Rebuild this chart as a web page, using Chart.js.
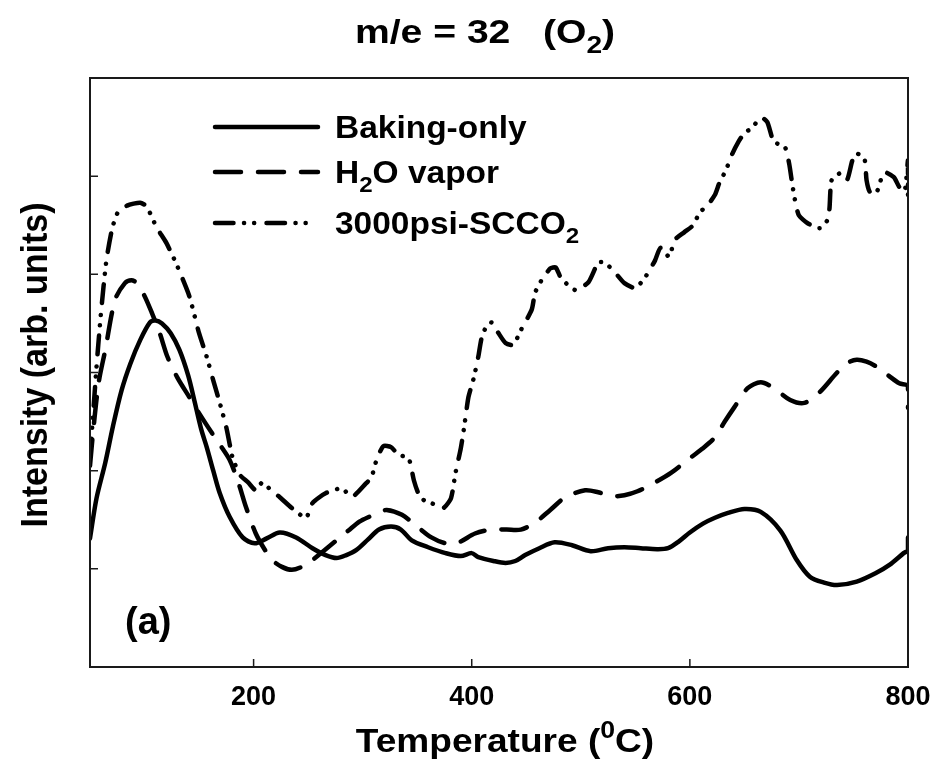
<!DOCTYPE html>
<html>
<head>
<meta charset="utf-8">
<title>m/e = 32 (O2)</title>
<script src="https://cdn.jsdelivr.net/npm/chart.js@4.4.1/dist/chart.umd.min.js"></script>
<style>
  html, body { margin: 0; padding: 0; background: #fff; }
  canvas { display: block; }
</style>
</head>
<body>
<canvas id="tds" width="933" height="765"></canvas>
<script>
// desorption traces, temperature in degC vs intensity (arb. units)
const bakingT = [50, 56, 64, 71, 79, 87, 96, 105, 110, 116, 124, 132, 140, 146, 152, 157, 163, 169, 178, 190,
  201, 212, 224, 239, 254, 266, 276, 285, 294, 305, 315, 326, 335, 345, 360, 376, 390, 400, 406, 420,
  431, 440, 449, 462, 476, 492, 509, 525, 540, 555, 570, 580, 590, 600, 612, 623, 635, 650, 665, 683,
  698, 710, 723, 735, 753, 771, 783, 796, 800, 800];
const bakingI = [1.31, 1.72, 2.08, 2.45, 2.82, 3.09, 3.33, 3.51, 3.53, 3.50, 3.40, 3.23, 2.97, 2.70, 2.42, 2.24, 2.00, 1.77, 1.53, 1.32,
  1.26, 1.31, 1.37, 1.32, 1.21, 1.14, 1.11, 1.14, 1.19, 1.30, 1.40, 1.43, 1.40, 1.29, 1.22, 1.16, 1.13, 1.16, 1.12, 1.08,
  1.06, 1.08, 1.14, 1.21, 1.27, 1.24, 1.18, 1.21, 1.22, 1.21, 1.20, 1.21, 1.28, 1.37, 1.46, 1.52, 1.57, 1.61, 1.58, 1.39,
  1.09, 0.92, 0.86, 0.835, 0.87, 0.96, 1.04, 1.16, 1.19, 1.32];

const vaporT = [50, 53, 58, 64, 73, 82, 88, 93, 100, 107, 114, 121, 130, 141, 152, 162, 170, 178, 186, 193,
  202, 210, 217, 226, 235, 244, 254, 265, 276, 287, 297, 306, 315, 322, 336, 350, 363, 376, 388, 403,
  418, 432, 445, 458, 472, 486, 504, 516, 528, 540, 552, 568, 583, 598, 611, 623, 632, 641, 653, 665,
  677, 692, 705, 719, 735, 745, 753, 762, 771, 782, 792, 800, 800];
const vaporI = [2.05, 2.41, 2.9, 3.23, 3.74, 3.91, 3.94, 3.91, 3.78, 3.6, 3.4, 3.16, 2.95, 2.75, 2.55, 2.38, 2.25, 2.11, 1.88, 1.63,
  1.36, 1.2, 1.09, 1.02, 0.99, 1.02, 1.09, 1.19, 1.29, 1.39, 1.48, 1.53, 1.57, 1.60, 1.55, 1.43, 1.32, 1.26, 1.27, 1.36,
  1.40, 1.40, 1.40, 1.47, 1.60, 1.73, 1.80, 1.78, 1.74, 1.75, 1.79, 1.88, 1.98, 2.11, 2.22, 2.34, 2.50, 2.65, 2.84, 2.90,
  2.84, 2.72, 2.69, 2.80, 3.00, 3.10, 3.13, 3.11, 3.06, 2.97, 2.89, 2.86, 2.64];

const scco2T = [50, 53, 56, 60, 65, 70, 75, 84, 96, 102, 111, 120, 129, 141, 150, 157, 163, 169, 175, 181,
  188, 195, 202, 208, 216, 224, 235, 248, 254, 266, 281, 290, 303, 308, 313, 319, 326, 333, 342, 347,
  351, 356, 363, 374, 381, 385, 390, 393, 397, 402, 406, 409, 413, 418, 424, 431, 438, 445, 455, 458,
  464, 472, 477, 482, 495, 507, 516, 522, 532, 540, 550, 559, 568, 573, 581, 586, 595, 603, 609, 616,
  623, 627, 633, 639, 644, 650, 657, 665, 671, 677, 687, 691, 694, 697, 700, 708, 719, 726, 728, 730,
  738, 744, 749, 753, 760, 762, 765, 771, 778, 787, 792, 797, 800, 800];
const scco2I = [2.14, 2.6, 3.06, 3.6, 4.14, 4.45, 4.62, 4.70, 4.73, 4.69, 4.48, 4.32, 4.11, 3.78, 3.4, 3.16, 2.92, 2.69, 2.44, 2.12,
  1.95, 1.88, 1.80, 1.88, 1.80, 1.73, 1.62, 1.52, 1.67, 1.77, 1.82, 1.73, 1.87, 1.93, 2.12, 2.25, 2.24, 2.16, 2.13, 1.90,
  1.77, 1.70, 1.67, 1.62, 1.72, 1.97, 2.23, 2.44, 2.75, 2.95, 3.16, 3.35, 3.46, 3.51, 3.41, 3.30, 3.28, 3.43, 3.64, 3.81,
  3.94, 4.06, 4.07, 3.96, 3.84, 3.92, 4.12, 4.12, 4.01, 3.91, 3.86, 3.97, 4.14, 4.27, 4.18, 4.35, 4.43, 4.50, 4.63, 4.70,
  4.81, 4.93, 5.06, 5.23, 5.34, 5.44, 5.49, 5.60, 5.55, 5.35, 5.30, 5.13, 4.91, 4.72, 4.60, 4.52, 4.47, 4.55, 4.67, 4.96,
  5.03, 4.96, 5.16, 5.23, 5.18, 4.96, 4.84, 4.83, 5.04, 4.99, 4.89, 4.85, 5.16, 4.70];

const seriesLabels = ['Baking-only', 'H₂O vapor', '3000psi-SCCO₂'];
const xTicks = [200, 400, 600, 800];
const yTicks = [1, 2, 3, 4, 5];

const chartTitle = 'm/e = 32   (O₂)';
const xTitle = 'Temperature (⁰C)';
const yTitle = 'Intensity (arb. units)';
const panelTag = '(a)';

const FONT = '"Liberation Sans", Arial, Helvetica, sans-serif';
const LINE_W = 4.5;

function toPoints(xs, ys) {
  return xs.map((x, i) => ({ x: x, y: ys[i] }));
}

// text helpers: ₂ is drawn as a subscript, ⁰ as a superscript
const SUB = { '₂': '2' };
const SUP = { '⁰': '0' };

function runsOf(text) {
  const runs = [];
  for (const ch of text) {
    const kind = SUB[ch] ? 'sub' : (SUP[ch] ? 'sup' : 'n');
    const c = SUB[ch] || SUP[ch] || ch;
    const last = runs[runs.length - 1];
    if (last && last.kind === kind) last.t += c;
    else runs.push({ kind: kind, t: c });
  }
  return runs;
}

function boldFont(size) {
  return 'bold ' + size + 'px ' + FONT;
}

function drawRich(ctx, text, x, y, size, opt) {
  opt = opt || {};
  const runs = runsOf(text);
  const sx = opt.scaleX || 1;
  let w = 0;
  runs.forEach(r => {
    ctx.font = boldFont(r.kind === 'n' ? size : size * 0.72);
    w += ctx.measureText(r.t).width;
  });
  ctx.save();
  ctx.translate(x, y);
  if (opt.rotate) ctx.rotate(opt.rotate);
  ctx.scale(sx, 1);
  ctx.textAlign = 'left';
  ctx.textBaseline = 'alphabetic';
  ctx.fillStyle = '#000';
  let cx = opt.align === 'center' ? -w / 2 : 0;
  runs.forEach(r => {
    ctx.font = boldFont(r.kind === 'n' ? size : size * 0.72);
    const dy = r.kind === 'sub' ? size * 0.3 : (r.kind === 'sup' ? -size * 0.42 : 0);
    ctx.fillText(r.t, cx, dy);
    cx += ctx.measureText(r.t).width;
  });
  ctx.restore();
}

// frame, inward ticks, titles and the in-plot legend
const figureText = {
  id: 'figureText',
  afterDraw(chart) {
    const ctx = chart.ctx;
    const a = chart.chartArea;
    const xs = chart.scales.x;
    const ys = chart.scales.y;
    ctx.save();

    ctx.strokeStyle = '#1a1a1a';
    ctx.lineWidth = 2;
    ctx.strokeRect(a.left, a.top, a.right - a.left, a.bottom - a.top);

    ctx.lineWidth = 1.5;
    ctx.beginPath();
    xTicks.forEach(v => {
      const px = xs.getPixelForValue(v);
      ctx.moveTo(px, a.bottom);
      ctx.lineTo(px, a.bottom - 8);
    });
    yTicks.forEach(v => {
      const py = ys.getPixelForValue(v);
      ctx.moveTo(a.left, py);
      ctx.lineTo(a.left + 8, py);
    });
    ctx.stroke();

    drawRich(ctx, chartTitle, 485, 43, 34, { align: 'center', scaleX: 1.15 });
    drawRich(ctx, xTitle, 505, 752, 34, { align: 'center', scaleX: 1.09 });
    drawRich(ctx, yTitle, 47, 365, 36, { align: 'center', scaleX: 0.945, rotate: -Math.PI / 2 });
    drawRich(ctx, panelTag, 125, 634, 38);

    // legend
    const rows = [127, 172, 223];
    chart.data.datasets.forEach((ds, i) => {
      ctx.save();
      ctx.strokeStyle = ds.borderColor;
      ctx.lineWidth = ds.borderWidth;
      ctx.lineCap = 'round';
      ctx.setLineDash(ds.borderDash || []);
      ctx.beginPath();
      ctx.moveTo(a.left + 125, rows[i]);
      ctx.lineTo(a.left + 228, rows[i]);
      ctx.stroke();
      ctx.restore();
      drawRich(ctx, ds.label, a.left + 245, rows[i] + 11, 31, { scaleX: 1.08 });
    });

    ctx.restore();
  }
};

const lineBase = {
  borderColor: '#000',
  borderWidth: LINE_W,
  borderCapStyle: 'round',
  borderJoinStyle: 'round',
  pointRadius: 0,
  fill: false
};

new Chart(document.getElementById('tds'), {
  type: 'line',
  data: {
    datasets: [
      Object.assign({}, lineBase, {
        label: seriesLabels[0],
        data: toPoints(bakingT, bakingI),
        tension: 0.3
      }),
      Object.assign({}, lineBase, {
        label: seriesLabels[1],
        data: toPoints(vaporT, vaporI),
        borderDash: [26, 17],
        tension: 0.3
      }),
      Object.assign({}, lineBase, {
        label: seriesLabels[2],
        data: toPoints(scco2T, scco2I),
        borderDash: [18.5, 10.5, 0.1, 10, 0.1, 12.3],
        tension: 0.2
      })
    ]
  },
  options: {
    responsive: false,
    devicePixelRatio: 1,
    animation: false,
    layout: { padding: { top: 78, right: 25, left: 0, bottom: 0 } },
    plugins: {
      legend: { display: false },
      title: { display: false },
      tooltip: { enabled: false }
    },
    scales: {
      x: {
        type: 'linear',
        min: 50,
        max: 800,
        grid: { display: false, drawTicks: false },
        border: { display: false },
        ticks: {
          color: '#000',
          font: { family: FONT, size: 27, weight: 'bold' },
          padding: 14,
          maxRotation: 0
        },
        afterBuildTicks: scale => {
          scale.ticks = xTicks.map(v => ({ value: v }));
        },
        afterFit: scale => {
          scale.height = 98;
          scale.paddingLeft = 0;
          scale.paddingRight = 0;
        }
      },
      y: {
        min: 0,
        max: 6,
        grid: { display: false, drawTicks: false },
        border: { display: false },
        ticks: { display: false },
        afterFit: scale => { scale.width = 90; }
      }
    }
  },
  plugins: [figureText]
});
</script>
</body>
</html>
